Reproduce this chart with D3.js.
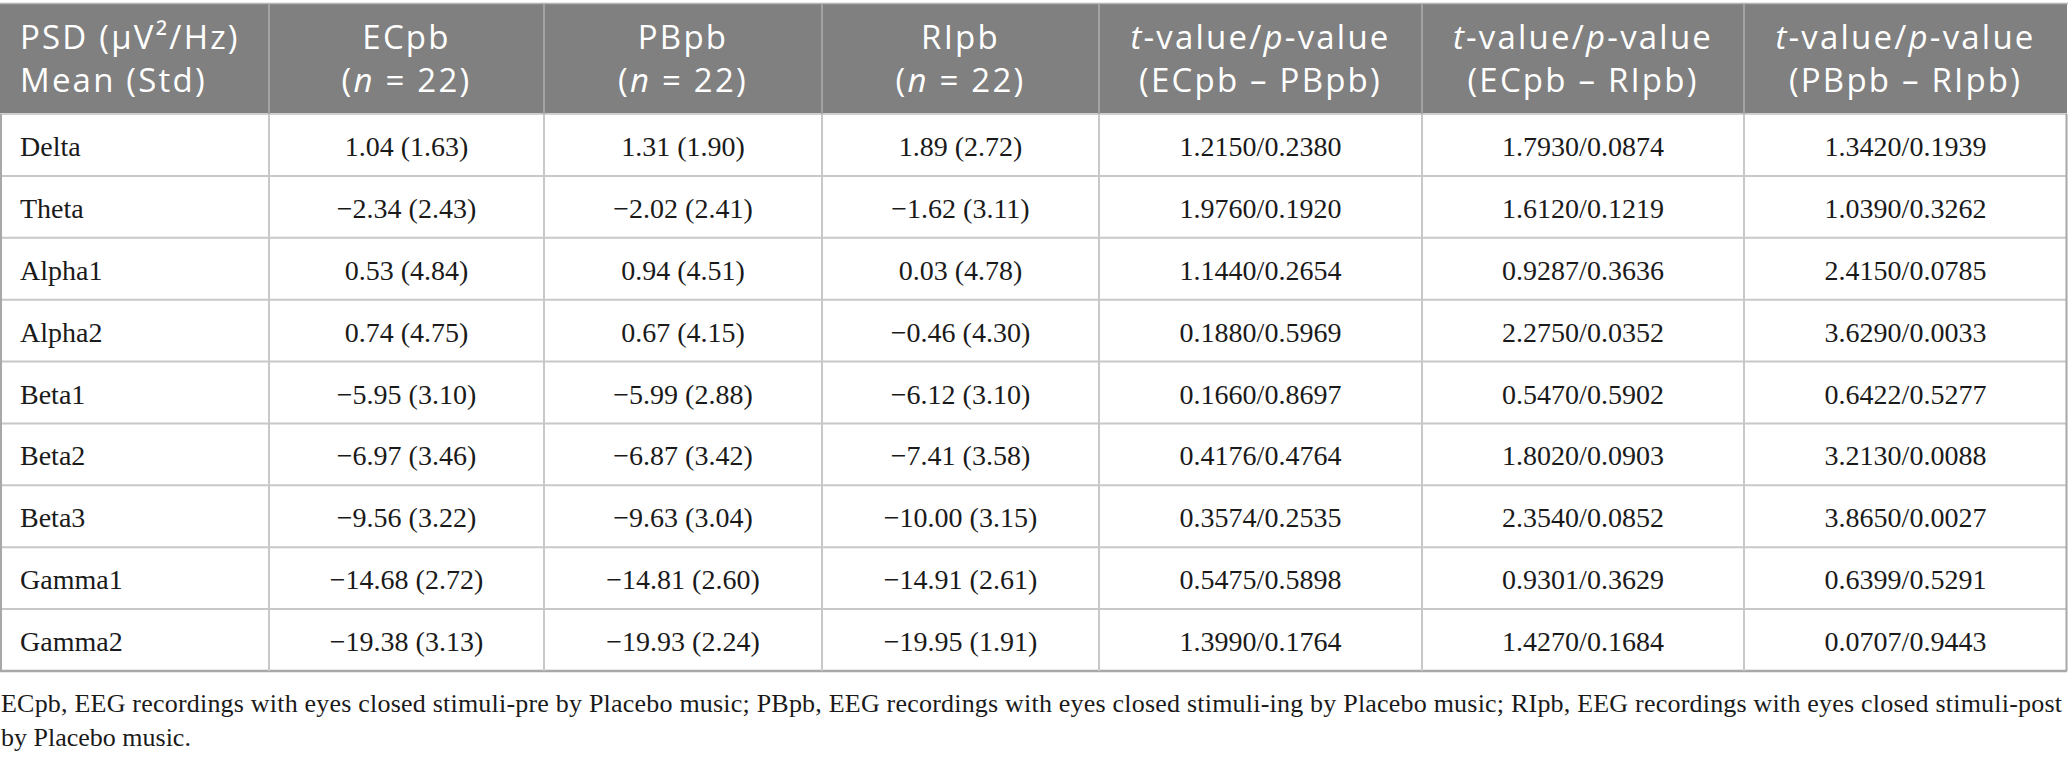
<!DOCTYPE html>
<html>
<head>
<meta charset="utf-8">
<script src="https://cdn.jsdelivr.net/npm/d3@7"></script>
<style>
  body { margin: 0; background: #fff; }
  svg { display: block; }
</style>
</head>
<body>
<svg id="psdTable" width="2068" height="761"></svg>
<script>
// frequency bands (row labels)
var bands = ["Delta", "Theta", "Alpha1", "Alpha2", "Beta1", "Beta2", "Beta3", "Gamma1", "Gamma2"];

// mean (std) per condition
var ecpbMean = [1.04, -2.34, 0.53, 0.74, -5.95, -6.97, -9.56, -14.68, -19.38];
var ecpbStd  = [1.63, 2.43, 4.84, 4.75, 3.10, 3.46, 3.22, 2.72, 3.13];
var pbpbMean = [1.31, -2.02, 0.94, 0.67, -5.99, -6.87, -9.63, -14.81, -19.93];
var pbpbStd  = [1.90, 2.41, 4.51, 4.15, 2.88, 3.42, 3.04, 2.60, 2.24];
var ripbMean = [1.89, -1.62, 0.03, -0.46, -6.12, -7.41, -10.00, -14.91, -19.95];
var ripbStd  = [2.72, 3.11, 4.78, 4.30, 3.10, 3.58, 3.15, 2.61, 1.91];

// paired t-tests
var tEcPb = [1.2150, 1.9760, 1.1440, 0.1880, 0.1660, 0.4176, 0.3574, 0.5475, 1.3990];
var pEcPb = [0.2380, 0.1920, 0.2654, 0.5969, 0.8697, 0.4764, 0.2535, 0.5898, 0.1764];
var tEcRi = [1.7930, 1.6120, 0.9287, 2.2750, 0.5470, 1.8020, 2.3540, 0.9301, 1.4270];
var pEcRi = [0.0874, 0.1219, 0.3636, 0.0352, 0.5902, 0.0903, 0.0852, 0.3629, 0.1684];
var tPbRi = [1.3420, 1.0390, 2.4150, 3.6290, 0.6422, 3.2130, 3.8650, 0.6399, 0.0707];
var pPbRi = [0.1939, 0.3262, 0.0785, 0.0033, 0.5277, 0.0088, 0.0027, 0.5291, 0.9443];

// header lines, parts flagged italic
var headers = [
  [[["PSD (μV²/Hz)", false]], [["Mean (Std)", false]]],
  [[["ECpb", false]], [["(", false], ["n", true], [" = 22)", false]]],
  [[["PBpb", false]], [["(", false], ["n", true], [" = 22)", false]]],
  [[["RIpb", false]], [["(", false], ["n", true], [" = 22)", false]]],
  [[["t", true], ["-value/", false], ["p", true], ["-value", false]], [["(ECpb – PBpb)", false]]],
  [[["t", true], ["-value/", false], ["p", true], ["-value", false]], [["(ECpb – RIpb)", false]]],
  [[["t", true], ["-value/", false], ["p", true], ["-value", false]], [["(PBpb – RIpb)", false]]]
];

var footLines = [
  "ECpb, EEG recordings with eyes closed stimuli-pre by Placebo music; PBpb, EEG recordings with eyes closed stimuli-ing by Placebo music; RIpb, EEG recordings with eyes closed stimuli-post",
  "by Placebo music."
];

var colWidths = [269, 275, 278, 277, 323, 322, 323];

var svg = d3.select("#psdTable");
var tableTop = 4, headBottom = 114, tableBottom = 671;

var colEdges = [0];
colWidths.forEach(function (w) { colEdges.push(colEdges[colEdges.length - 1] + w); });

var yRow = d3.scaleBand().domain(bands).range([headBottom, tableBottom]);

var f2 = d3.format(".2f"), f4 = d3.format(".4f");
var ms = function (m, s) { return f2(m) + " (" + f2(s) + ")"; };
var tp = function (t, p) { return f4(t) + "/" + f4(p); };

var rows = bands.map(function (b, i) {
  return [b, ms(ecpbMean[i], ecpbStd[i]), ms(pbpbMean[i], pbpbStd[i]), ms(ripbMean[i], ripbStd[i]),
          tp(tEcPb[i], pEcPb[i]), tp(tEcRi[i], pEcRi[i]), tp(tPbRi[i], pPbRi[i])];
});

// header band
svg.append("rect")
  .attr("x", 0).attr("y", tableTop)
  .attr("width", colEdges[7]).attr("height", headBottom - tableTop)
  .attr("fill", "#7f807f");

svg.append("line")
  .attr("x1", 0).attr("x2", colEdges[7] + 1)
  .attr("y1", tableTop - 0.5).attr("y2", tableTop - 0.5)
  .attr("stroke", "#b4b4b4").attr("stroke-width", 1.5);

// body horizontal rules
svg.append("g").selectAll("line")
  .data(bands)
  .enter().append("line")
  .attr("x1", 0).attr("x2", colEdges[7])
  .attr("y1", function (d) { return yRow(d) + yRow.bandwidth(); })
  .attr("y2", function (d) { return yRow(d) + yRow.bandwidth(); })
  .attr("stroke", function (d, i) { return i === bands.length - 1 ? "#a8a8a8" : "#c8c8c8"; })
  .attr("stroke-width", function (d, i) { return i === bands.length - 1 ? 2.5 : 2; });

svg.append("line")
  .attr("x1", 0).attr("x2", colEdges[7])
  .attr("y1", headBottom).attr("y2", headBottom)
  .attr("stroke", "#cfcfcf").attr("stroke-width", 2);

// vertical rules
var vEdges = colEdges.slice(0);
svg.append("g").selectAll("line.body")
  .data(vEdges)
  .enter().append("line")
  .attr("x1", function (d, i) { return i === 0 ? 1 : (i === 7 ? d - 0.5 : d); })
  .attr("x2", function (d, i) { return i === 0 ? 1 : (i === 7 ? d - 0.5 : d); })
  .attr("y1", headBottom).attr("y2", tableBottom)
  .attr("stroke", function (d, i) { return (i === 0 || i === 7) ? "#a8a8a8" : "#c8c8c8"; })
  .attr("stroke-width", 2);

svg.append("g").selectAll("line.head")
  .data(vEdges.slice(1, 7))
  .enter().append("line")
  .attr("x1", function (d) { return d; }).attr("x2", function (d) { return d; })
  .attr("y1", tableTop).attr("y2", headBottom)
  .attr("stroke", "#a3a3a3").attr("stroke-width", 2);

// header text
var head = svg.append("g")
  .attr("font-family", "'Open Sans', sans-serif")
  .attr("font-size", 33)
  .attr("letter-spacing", "2.2px")
  .attr("fill", "#ffffff");

headers.forEach(function (lines, c) {
  var left = c === 0;
  var x = left ? 20 : (colEdges[c] + colEdges[c + 1]) / 2;
  lines.forEach(function (parts, li) {
    var t = head.append("text")
      .attr("x", x)
      .attr("y", li === 0 ? 49 : 92)
      .attr("text-anchor", left ? "start" : "middle");
    t.selectAll("tspan").data(parts).enter().append("tspan")
      .attr("font-style", function (d) { return d[1] ? "italic" : null; })
      .text(function (d) { return d[0]; });
  });
});

// body cells
var body = svg.append("g")
  .attr("font-family", "'Liberation Serif', 'Times New Roman', serif")
  .attr("font-size", 28)
  .attr("fill", "#1a1a1a");

var rowG = body.selectAll("g.row")
  .data(rows)
  .enter().append("g")
  .attr("transform", function (d, i) { return "translate(0," + (yRow(bands[i]) + 42) + ")"; });

rowG.selectAll("text")
  .data(function (d) { return d; })
  .enter().append("text")
  .attr("x", function (d, c) { return c === 0 ? 20 : (colEdges[c] + colEdges[c + 1]) / 2; })
  .attr("text-anchor", function (d, c) { return c === 0 ? "start" : "middle"; })
  .text(function (d) { return d; });

// footnote
svg.append("g")
  .attr("font-family", "'Liberation Serif', 'Times New Roman', serif")
  .attr("font-size", 26)
  .attr("fill", "#1a1a1a")
  .selectAll("text")
  .data(footLines)
  .enter().append("text")
  .attr("x", 1)
  .attr("y", function (d, i) { return 712 + i * 34; })
  .attr("textLength", function (d, i) { return i === 0 ? 2061 : null; })
  .attr("lengthAdjust", "spacing")
  .text(function (d) { return d; });
</script>
</body>
</html>
